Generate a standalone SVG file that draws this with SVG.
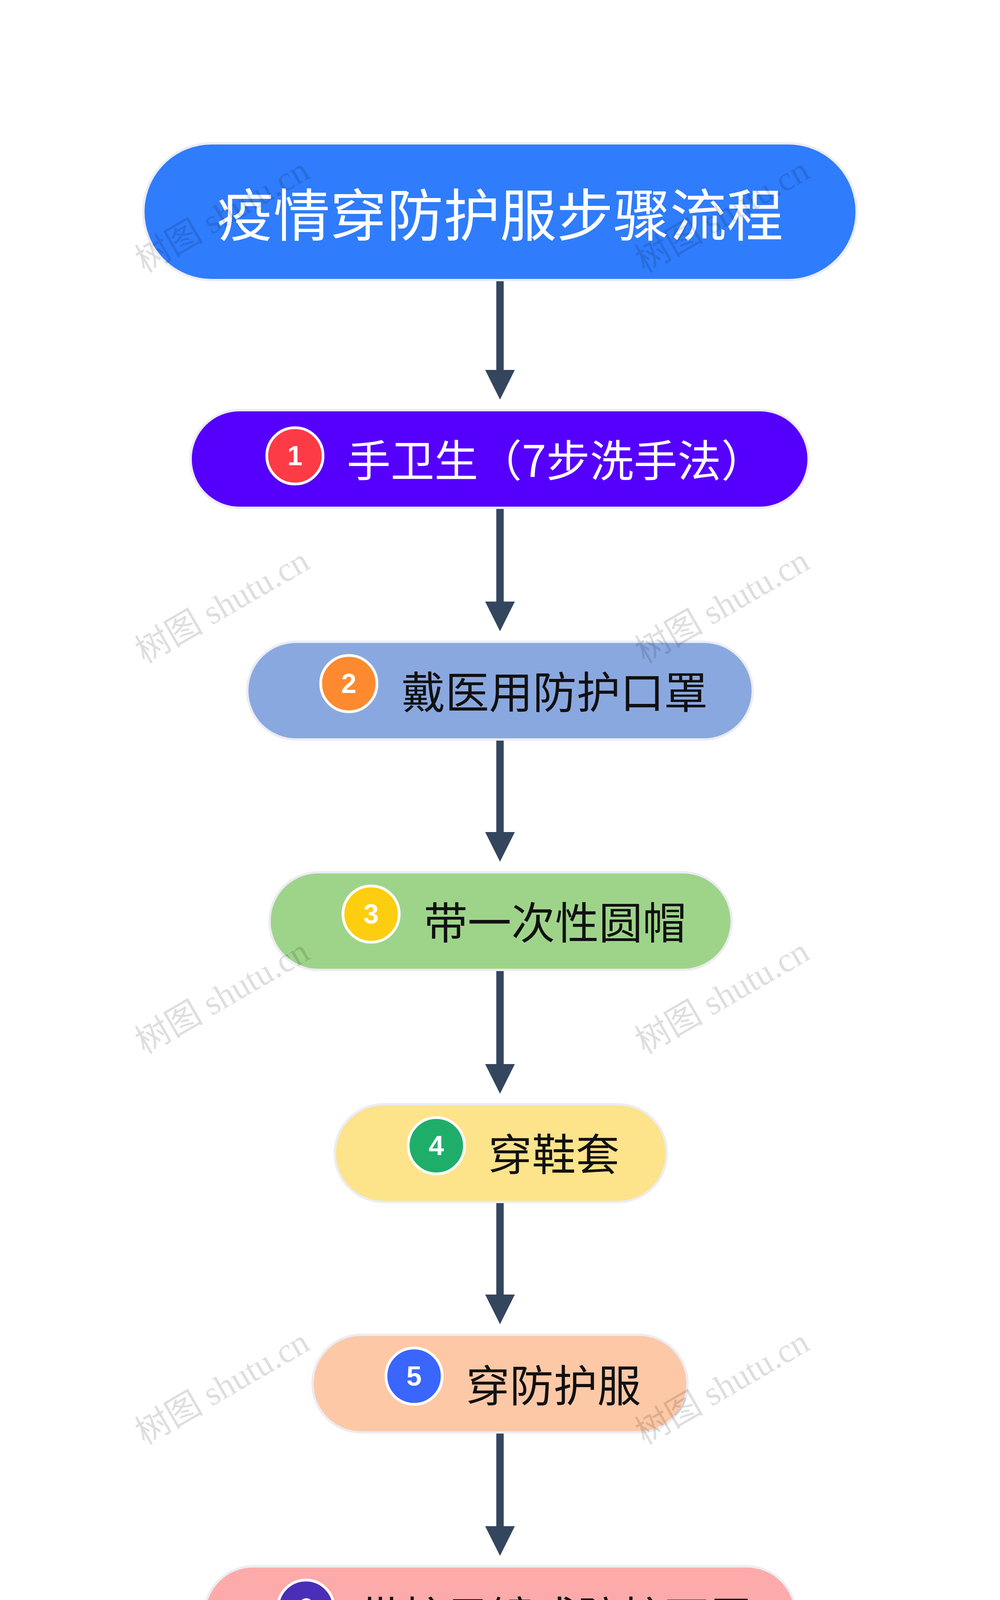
<svg xmlns="http://www.w3.org/2000/svg" width="2560" height="5219" viewBox="0 0 2560 5219">
<style>
.nt{font-family:"Noto Sans CJK SC","Noto Sans",sans-serif;font-size:112px;dominant-baseline:central}
.bx{stroke:#ececf2;stroke-width:6}
.num{font-family:"Liberation Sans",Arial,sans-serif;font-weight:bold;font-size:70px;fill:#fff;text-anchor:middle;dominant-baseline:central}
.bd{stroke:#fff;stroke-width:7}
.wm{font-family:"Liberation Serif","Noto Sans CJK SC",serif;font-size:88px;fill:#000;fill-opacity:0.13}
.ln{stroke:#34465e;stroke-width:19;fill:none}
</style>
<defs><marker id="ah" markerWidth="4" markerHeight="4" refX="2" refY="2" orient="auto" markerUnits="strokeWidth" viewBox="0 0 4 4"><path d="M0,0 L4,2 L0,4 z" fill="#34465e"/></marker></defs>
<rect width="2560" height="5219" fill="#fff"/>
<g id="connectors">
<line class="ln" x1="1280" y1="717" x2="1280" y2="985" marker-end="url(#ah)"/>
<line class="ln" x1="1280" y1="1300" x2="1280" y2="1578" marker-end="url(#ah)"/>
<line class="ln" x1="1280" y1="1893" x2="1280" y2="2168" marker-end="url(#ah)"/>
<line class="ln" x1="1280" y1="2483" x2="1280" y2="2762" marker-end="url(#ah)"/>
<line class="ln" x1="1280" y1="3077" x2="1280" y2="3352" marker-end="url(#ah)"/>
<line class="ln" x1="1280" y1="3667" x2="1280" y2="3945" marker-end="url(#ah)"/>
<line class="ln" x1="1280" y1="4260" x2="1280" y2="4535" marker-end="url(#ah)"/>
</g>
<g id="title"><rect x="367" y="367" width="1826" height="350" rx="175" fill="#2f7cfd" class="bx"/>
<text x="1280" y="542" class="nt" style="font-size:145px;text-anchor:middle" fill="#fff">疫情穿防护服步骤流程</text></g>
<g id="n1"><rect x="488" y="1050" width="1582" height="250" rx="125" fill="#5500fd" class="bx"/>
<circle cx="755" cy="1167" r="72" fill="#fd3b46" class="bd"/><text x="755" y="1167" class="num">1</text>
<text x="888" y="1172" class="nt" fill="#fff">手卫生（7步洗手法）</text></g>
<g id="n2"><rect x="633" y="1643" width="1294" height="250" rx="125" fill="#8aa8e0" class="bx"/>
<circle cx="893" cy="1750" r="72" fill="#fd8a2f" class="bd"/><text x="893" y="1750" class="num">2</text>
<text x="1028" y="1765" class="nt" fill="#111">戴医用防护口罩</text></g>
<g id="n3"><rect x="690" y="2233" width="1183" height="250" rx="125" fill="#9ed48a" class="bx"/>
<circle cx="950" cy="2340" r="72" fill="#fdce10" class="bd"/><text x="950" y="2340" class="num">3</text>
<text x="1085" y="2355" class="nt" fill="#111">带一次性圆帽</text></g>
<g id="n4"><rect x="857" y="2827" width="850" height="250" rx="125" fill="#fde38a" class="bx"/>
<circle cx="1117" cy="2933" r="72" fill="#1fae6a" class="bd"/><text x="1117" y="2933" class="num">4</text>
<text x="1250" y="2948" class="nt" fill="#111">穿鞋套</text></g>
<g id="n5"><rect x="800" y="3417" width="960" height="250" rx="125" fill="#fdc8a6" class="bx"/>
<circle cx="1060" cy="3523" r="72" fill="#3a66fd" class="bd"/><text x="1060" y="3523" class="num">5</text>
<text x="1193" y="3540" class="nt" fill="#111">穿防护服</text></g>
<g id="n6"><rect x="523" y="4010" width="1514" height="250" rx="125" fill="#fdaaaa" class="bx"/>
<circle cx="783" cy="4117" r="72" fill="#4a2eb8" class="bd"/><text x="783" y="4117" class="num">6</text>
<text x="918" y="4133" class="nt" fill="#111">带护目镜或防护面屏</text></g>
<g id="n7"><rect x="633" y="4600" width="1294" height="250" rx="125" fill="#a7b7cc" class="bx"/>
<circle cx="893" cy="4710" r="72" fill="#6e3046" class="bd"/><text x="893" y="4710" class="num">7</text>
<text x="1028" y="4725" class="nt" fill="#111">带外层外科手套</text></g>
<g id="watermarks">
<text class="wm" transform="translate(370,700) rotate(-30)">树图 shutu.cn</text>
<text class="wm" transform="translate(1650,700) rotate(-30)">树图 shutu.cn</text>
<text class="wm" transform="translate(370,1700) rotate(-30)">树图 shutu.cn</text>
<text class="wm" transform="translate(1650,1700) rotate(-30)">树图 shutu.cn</text>
<text class="wm" transform="translate(370,2700) rotate(-30)">树图 shutu.cn</text>
<text class="wm" transform="translate(1650,2700) rotate(-30)">树图 shutu.cn</text>
<text class="wm" transform="translate(370,3700) rotate(-30)">树图 shutu.cn</text>
<text class="wm" transform="translate(1650,3700) rotate(-30)">树图 shutu.cn</text>
<text class="wm" transform="translate(370,4700) rotate(-30)">树图 shutu.cn</text>
<text class="wm" transform="translate(1650,4700) rotate(-30)">树图 shutu.cn</text>
</g>
</svg>
